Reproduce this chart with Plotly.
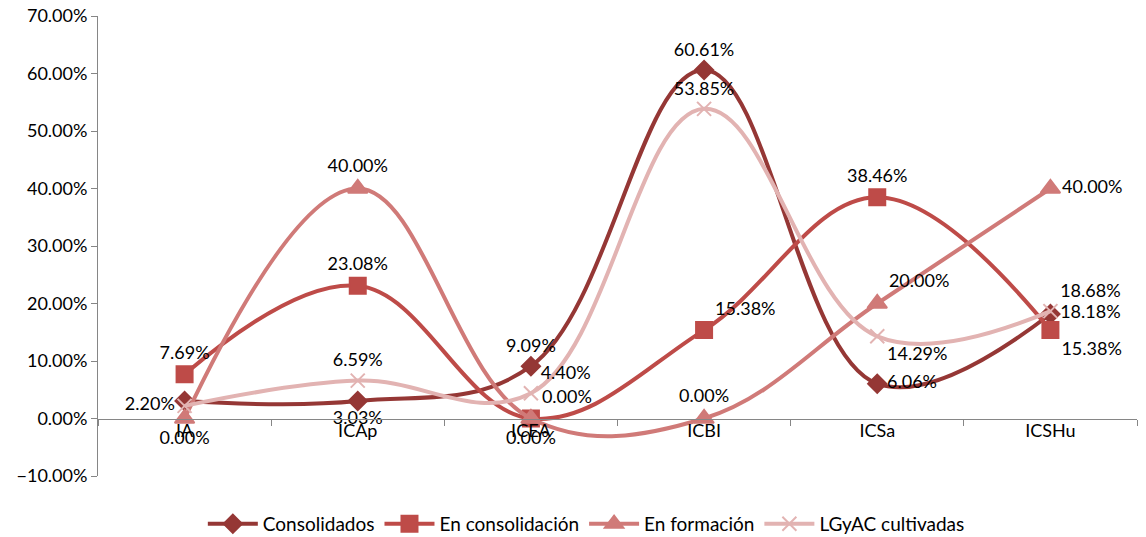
import plotly.graph_objects as go

categories = ["IA", "ICAp", "ICEA", "ICBI", "ICSa", "ICSHu"]

consolidados = [3.03, 3.03, 9.09, 60.61, 6.06, 18.18]
en_consolidacion = [7.69, 23.08, 0.00, 15.38, 38.46, 15.38]
en_formacion = [0.00, 40.00, 0.00, 0.00, 20.00, 40.00]
lgyac_cultivadas = [2.20, 6.59, 4.40, 53.85, 14.29, 18.68]

FONT = "Lato, 'Open Sans', sans-serif"

series = [
    dict(name="Consolidados", y=consolidados, color="#953735", symbol="diamond", size=14,
         pos=["top center", "bottom center", "top center", "top center", "middle right", "middle right"],
         show=[False, True, True, True, True, True]),
    dict(name="En consolidación", y=en_consolidacion, color="#BE4B48", symbol="square", size=16,
         pos=["top center", "top center", "top right", "top right", "top center", "bottom right"],
         show=[True] * 6),
    dict(name="En formación", y=en_formacion, color="#D07A78", symbol="triangle-up", size=17,
         pos=["bottom center", "top center", "bottom center", "top center", "top right", "middle right"],
         show=[True] * 6),
    dict(name="LGyAC cultivadas", y=lgyac_cultivadas, color="#E2B3B2", symbol="x-thin", size=14,
         pos=["middle left", "top center", "top right", "top center", "bottom right", "top right"],
         show=[True] * 6),
]

fig = go.Figure()
for s in series:
    texts = ["%.2f%%" % v if show else "" for v, show in zip(s["y"], s["show"])]
    fig.add_trace(go.Scatter(
        x=categories, y=s["y"], name=s["name"],
        mode="lines+markers+text",
        line=dict(color=s["color"], width=4, shape="spline", smoothing=1.1),
        marker=dict(symbol=s["symbol"], size=s["size"], color=s["color"],
                    line=dict(color=s["color"], width=2)),
        text=texts, textposition=s["pos"],
        textfont=dict(family=FONT, size=18, color="#000000"),
        cliponaxis=False,
    ))

# the page body adds an 8px offset, margins are set to compensate
fig.update_layout(
    width=1146, height=537,
    margin=dict(l=90, r=17, t=8, b=69, autoexpand=False),
    paper_bgcolor="white", plot_bgcolor="white",
    font=dict(family=FONT, size=18, color="#000000"),
    legend=dict(orientation="h", x=0.47, xanchor="center", y=-0.104, yanchor="middle",
                font=dict(size=19), itemwidth=50, bgcolor="rgba(0,0,0,0)"),
    xaxis=dict(
        type="category", range=[-0.5, 5.5],
        anchor="free", position=0.125,
        showline=True, linecolor="#868686", linewidth=1,
        ticks="outside", tickson="boundaries", ticklen=6, tickcolor="#868686",
        ticklabelstandoff=-4,
        showgrid=False, zeroline=False,
    ),
    yaxis=dict(
        range=[-10, 70], dtick=10, tickformat=".2f", ticksuffix="%",
        showline=True, linecolor="#868686", linewidth=1,
        ticks="outside", ticklen=6, tickcolor="#868686",
        ticklabeloverflow="allow",
        showgrid=False, zeroline=False,
    ),
)

fig.write_html("out.html")
